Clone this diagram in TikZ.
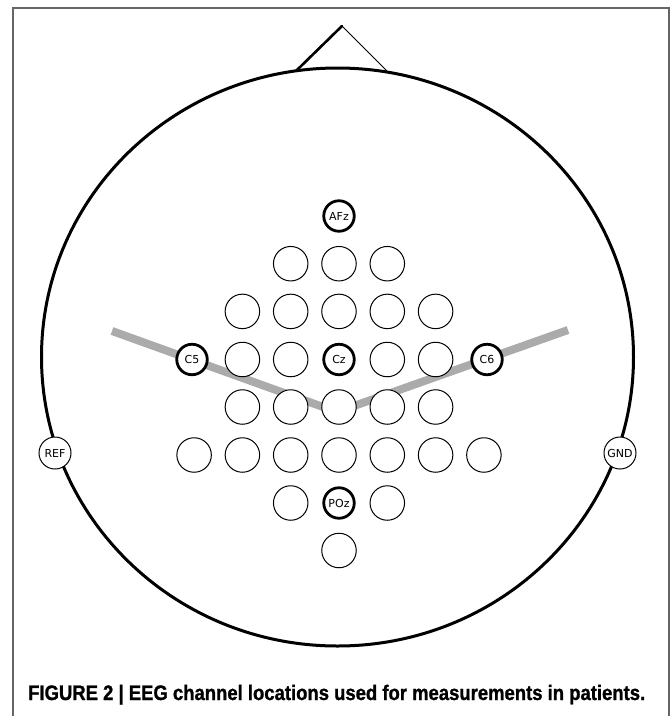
\documentclass[tikz,border=0pt]{standalone}
\usepackage{fontspec}
\setmainfont{DejaVu Sans}
\newfontfamily\capfont{Liberation Sans}[BoldFeatures={FakeBold=1.2}]
\begin{document}
\begin{tikzpicture}[x=1pt,y=-1pt,
  thinel/.style={circle, draw, fill=white, line width=1pt, minimum size=34.5pt, inner sep=0pt, font=\fontsize{11}{13}\selectfont},
  thickel/.style={thinel, line width=2.8pt, minimum size=30.5pt},
  refel/.style={thinel, minimum size=32pt},
  frameline/.style={draw=black!60, line width=1.5pt},
  headline/.style={line width=3pt},
  band/.style={draw=black!33, line width=8pt}
]
\useasboundingbox (0,0) rectangle (671,716);
% frame
\draw[frameline] (13,716) -- (13,8) -- (669,8) -- (669,716);
% nose
\coordinate (nl) at (296,71);
\coordinate (na) at (342,26);
\coordinate (nr) at (387,71);
\draw[line width=2.6pt, line cap=round] (nl) -- (na);
\draw[line width=0.9pt] (na) -- (nr);
% head
\draw[headline] (337.5,357) ellipse [x radius=296, y radius=289];
% gray band
\coordinate (bl) at (112,331);
\coordinate (bv) at (337,412);
\coordinate (br) at (568,330);
\draw[band] (bl) -- (bv) -- (br);
% electrodes
\def\ya{216}\def\yb{263.7}\def\yc{311.4}\def\yd{359.5}\def\ye{407}\def\yf{455}\def\yg{503}\def\yh{550.5}
\node[thickel] (AFz) at (339,\ya) {AFz};
\node[thinel] (b1) at (290.7,\yb) {};
\node[thinel] (b2) at (339,\yb) {};
\node[thinel] (b3) at (387.3,\yb) {};
\node[thinel] (c1) at (242.4,\yc) {};
\node[thinel] (c2) at (290.7,\yc) {};
\node[thinel] (c3) at (339,\yc) {};
\node[thinel] (c4) at (387.3,\yc) {};
\node[thinel] (c5) at (435.6,\yc) {};
\node[thickel] (C5) at (192,\yd) {C5};
\node[thinel] (d2) at (242.4,\yd) {};
\node[thinel] (d3) at (290.7,\yd) {};
\node[thickel] (Cz) at (339,\yd) {Cz};
\node[thinel] (d5) at (387.3,\yd) {};
\node[thinel] (d6) at (435.6,\yd) {};
\node[thickel] (C6) at (487,\yd) {C6};
\node[thinel] (e1) at (242.4,\ye) {};
\node[thinel] (e2) at (290.7,\ye) {};
\node[thinel] (e3) at (339,\ye) {};
\node[thinel] (e4) at (387.3,\ye) {};
\node[thinel] (e5) at (435.6,\ye) {};
\node[thinel] (f1) at (194.1,\yf) {};
\node[thinel] (f2) at (242.4,\yf) {};
\node[thinel] (f3) at (290.7,\yf) {};
\node[thinel] (f4) at (339,\yf) {};
\node[thinel] (f5) at (387.3,\yf) {};
\node[thinel] (f6) at (435.6,\yf) {};
\node[thinel] (f7) at (483.9,\yf) {};
\node[thinel] (g1) at (290.7,\yg) {};
\node[thickel] (POz) at (339,\yg) {POz};
\node[thinel] (g3) at (387.3,\yg) {};
\node[thinel] (h1) at (339,\yh) {};
% REF / GND
\node[refel] (REF) at (55,453) {REF};
\node[refel] (GND) at (620,453) {GND};
% caption
\node[anchor=base west, inner sep=0pt] (cap) at (28,700)
  {\resizebox{617pt}{\height}{\capfont\bfseries\fontsize{21}{24}\selectfont FIGURE 2 | EEG channel locations used for measurements in patients.}};
\end{tikzpicture}
\end{document}
